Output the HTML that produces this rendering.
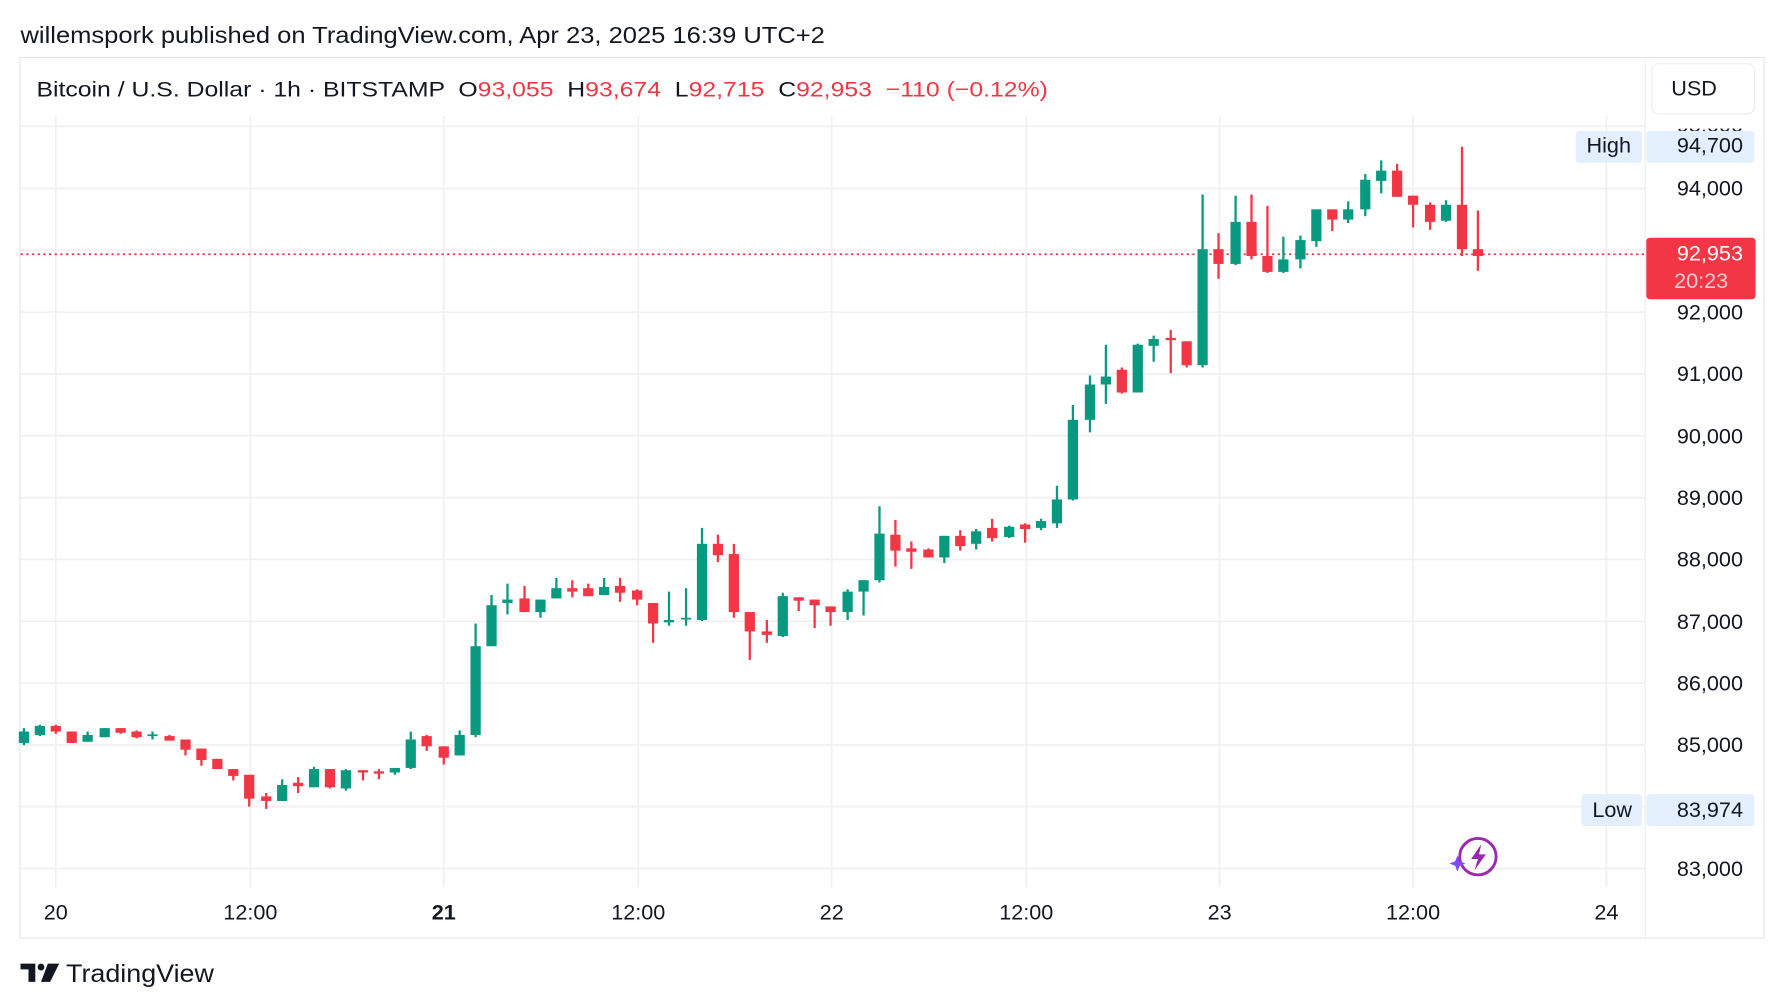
<!DOCTYPE html>
<html><head><meta charset="utf-8"><style>
html,body{margin:0;padding:0;background:#fff;}
svg{display:block;font-family:"Liberation Sans",sans-serif;}
.g{fill:#089981}.r{fill:#F23645}
.gw{stroke:#089981;stroke-width:2}.rw{stroke:#F23645;stroke-width:2}
.grid{stroke:#f0f0f0;stroke-width:1.5}
.pl{font-size:19px;fill:#131722;text-anchor:end}
.tl{font-size:19px;fill:#131722;text-anchor:middle}
</style></head><body>
<svg width="1784" height="1008" viewBox="0 0 1568 886" xmlns="http://www.w3.org/2000/svg">
<rect width="1568" height="886" fill="#fff"/>
<text x="18" y="38" font-size="20" fill="#131722" textLength="707" lengthAdjust="spacingAndGlyphs">willemspork published on TradingView.com, Apr 23, 2025 16:39 UTC+2</text>
<rect x="17.5" y="50.5" width="1533" height="774" fill="none" stroke="#e6e6e6"/>
<line x1="1446" y1="51" x2="1446" y2="824" stroke="#eeeeee"/>
<g class="grid">
<line x1="18" x2="1446" y1="111" y2="111"/><line x1="18" x2="1446" y1="165.6" y2="165.6"/><line x1="18" x2="1446" y1="220" y2="220"/>
<line x1="18" x2="1446" y1="274.3" y2="274.3"/><line x1="18" x2="1446" y1="328.7" y2="328.7"/><line x1="18" x2="1446" y1="383" y2="383"/>
<line x1="18" x2="1446" y1="437.4" y2="437.4"/><line x1="18" x2="1446" y1="491.7" y2="491.7"/><line x1="18" x2="1446" y1="546.1" y2="546.1"/>
<line x1="18" x2="1446" y1="600.4" y2="600.4"/><line x1="18" x2="1446" y1="654.8" y2="654.8"/><line x1="18" x2="1446" y1="709" y2="709"/>
<line x1="18" x2="1446" y1="763.4" y2="763.4"/>
<line x1="49" x2="49" y1="100" y2="780"/><line x1="220" x2="220" y1="100" y2="780"/><line x1="390" x2="390" y1="100" y2="780"/>
<line x1="561" x2="561" y1="100" y2="780"/><line x1="731" x2="731" y1="100" y2="780"/><line x1="902" x2="902" y1="100" y2="780"/>
<line x1="1072" x2="1072" y1="100" y2="780"/><line x1="1242" x2="1242" y1="100" y2="780"/><line x1="1412" x2="1412" y1="100" y2="780"/>
</g>
<rect x="18" y="52" width="1420" height="50" fill="#fff"/>
<text x="32" y="85" font-size="19" fill="#131722" textLength="889" lengthAdjust="spacingAndGlyphs" xml:space="preserve">Bitcoin / U.S. Dollar · 1h · BITSTAMP  O<tspan fill="#F23645">93,055</tspan>  H<tspan fill="#F23645">93,674</tspan>  L<tspan fill="#F23645">92,715</tspan>  C<tspan fill="#F23645">92,953</tspan>  <tspan fill="#F23645">−110 (−0.12%)</tspan></text>
<line x1="18" x2="1446" y1="223.5" y2="223.5" stroke="#F23645" stroke-width="1.5" stroke-dasharray="2,3"/>
<g id="c"></g>
<text class="pl" x="1532" y="116">95,000</text>
<rect x="1447" y="101" width="100" height="12" fill="#fff"/>
<text class="pl" x="1532" y="172">94,000</text>
<text class="pl" x="1532" y="281">92,000</text>
<text class="pl" x="1532" y="335">91,000</text>
<text class="pl" x="1532" y="390">90,000</text>
<text class="pl" x="1532" y="444">89,000</text>
<text class="pl" x="1532" y="498">88,000</text>
<text class="pl" x="1532" y="553">87,000</text>
<text class="pl" x="1532" y="607">86,000</text>
<text class="pl" x="1532" y="661">85,000</text>
<text class="pl" x="1532" y="770">83,000</text>
<rect x="1452" y="56" width="90" height="44" rx="6" fill="#fff" stroke="#eeeeee"/>
<text x="1489" y="84" font-size="19" fill="#131722" text-anchor="middle">USD</text>
<rect x="1385" y="115" width="58" height="28" rx="3" fill="#e3effd"/>
<text x="1414" y="134" font-size="19" fill="#131722" text-anchor="middle">High</text>
<rect x="1447" y="115" width="95" height="28" rx="3" fill="#e3effd"/>
<text class="pl" x="1532" y="134">94,700</text>
<rect x="1390" y="698" width="53" height="28" rx="3" fill="#e3effd"/>
<text x="1417" y="718" font-size="19" fill="#131722" text-anchor="middle">Low</text>
<rect x="1447" y="698" width="95" height="28" rx="3" fill="#e3effd"/>
<text class="pl" x="1532" y="718">83,974</text>
<rect x="1447" y="209" width="96" height="54" rx="3" fill="#F23645"/>
<text x="1532" y="229" font-size="19" fill="#fff" text-anchor="end">92,953</text>
<text x="1519" y="253" font-size="19" fill="#fbd0d4" text-anchor="end">20:23</text>
<text class="tl" x="49" y="808">20</text>
<text class="tl" x="220" y="808">12:00</text>
<text class="tl" x="390" y="808" font-weight="bold">21</text>
<text class="tl" x="561" y="808">12:00</text>
<text class="tl" x="731" y="808">22</text>
<text class="tl" x="902" y="808">12:00</text>
<text class="tl" x="1072" y="808">23</text>
<text class="tl" x="1242" y="808">12:00</text>
<text class="tl" x="1412" y="808">24</text>
<circle cx="1299" cy="753" r="16" fill="none" stroke="#9c27b0" stroke-width="2.5"/>
<path d="M1302 742 L1293 755 L1299 755 L1296 765 L1306 751 L1300 751 Z" fill="#9c27b0"/>
<path d="M1281 752 l2 5 l5 2 l-5 2 l-2 5 l-2 -5 l-5 -2 l5 -2 z" fill="#7b4dff"/>
<path d="M18 847 h13 v16 h-6 v-11 h-7 z" fill="#131722"/>
<circle cx="36" cy="850" r="3" fill="#131722"/>
<path d="M42 847 h10 l-8 16 h-8 z" fill="#131722"/>
<text x="58" y="863" font-size="22" fill="#131722" textLength="130" lengthAdjust="spacingAndGlyphs">TradingView</text>
</svg>
<script>
var d=[
[21,'g',643,653,640,655],[35,'g',638,646,637,647],[49,'r',638,643,637,645],[63,'r',643,653,643,653],[77,'g',646,652,643,652],
[92,'g',640,648,640,648],[106,'r',640,644,640,645],[120,'r',643,648,642,649],[134,'g',645.5,647,643,650],[149,'r',647,651,646,651],
[163,'r',650,659,650,664],[177,'r',658,668,658,673],[191,'r',667,676,667,676],[205,'r',676,682,676,686],[219,'r',681,702,681,709],
[234,'r',700,704,697,711],[248,'g',690,704,685,704],[262,'r',688,691,683,697],[276,'g',676,692,674,692],[290,'r',676,692,676,693],
[304,'g',677,693,676,695],[319,'r',677,679,677,686],[333,'r',678,680,676,685],[347,'g',675,679,675,681],[361,'g',650,675,643,676],
[375,'r',647,656,646,660],[390,'r',656,666,656,672],[404,'g',646,664,642,664],[418,'g',568,646,548,648],[432,'g',532,568,523,568],
[446,'g',527,530,513,540],[461,'r',526,538,515,538],[475,'g',527,538,527,543],[489,'g',517,526,508,526],[503,'r',517,520,510,525],
[517,'r',517,524,513,524],[531,'g',516,523,508,523],[545,'r',515,521,508,529],[560,'r',519,527,518,532],[574,'r',530,548,530,565],
[588,'g',545,547,520,550],[603,'g',543,544.5,517,550],[617,'g',478,545,464,546],[631,'r',478,488,470,494],[645,'r',487,538,478,543],
[659,'r',538,555,538,580],[674,'r',555,558,545,565],[688,'g',524,559,521,560],[702,'r',525,528,525,537],[716,'r',527,532,527,552],
[730,'r',533,538,533,550],[745,'g',520,538,518,545],[759,'g',510,520,510,541],[773,'g',469,510,445,512],[787,'r',470,484,457,498],
[801,'r',482,485,476,500],[816,'r',483,490,482,490],[830,'g',471,490,471,495],[844,'r',471,480,466,484],[858,'g',467,478,465,483],
[872,'r',464,473,456,476],[887,'g',463,472,462,473],[901,'r',461,465,460,477],[915,'g',458,464,456,466],[929,'g',439,460,427,464],
[943,'g',369,439,356,440],[958,'g',338,369,330,380],[972,'g',331,338,303,355],[986,'r',325,345,323,346],[1000,'g',303,345,302,345],
[1014,'g',298,304,295,318],[1029,'r',297,299,290,328],[1043,'r',300,321,300,323],[1057,'g',219,321,171,323],[1071,'r',219,232,205,245],
[1086,'g',195,232,172,233],[1100,'r',195,225,171,228],[1114,'r',225,239,181,240],[1128,'g',228,239,208,240],[1143,'g',211,228,207,236],
[1157,'g',184,212,184,217],[1171,'r',184,193,184,203],[1185,'g',184,193,177,196],[1200,'g',158,184,153,190],[1214,'g',150,159,141,170],
[1228,'r',150,173,144,173],[1242,'r',172,180,172,200],[1257,'r',180,195,178,202],[1271,'g',180,194,176,195],[1285,'r',180,219,129,225],
[1299,'r',219,225,185,238]];
var s='';d.forEach(function(c){var x=c[0],k=c[1];
s+='<line class="'+k+'w" x1="'+x+'" x2="'+x+'" y1="'+c[4]+'" y2="'+c[5]+'"/>';
var h=Math.max(c[3]-c[2],1.5);
s+='<rect class="'+k+'" x="'+(x-4.5)+'" y="'+c[2]+'" width="9" height="'+h+'"/>';});
document.getElementById('c').innerHTML=s;
</script>
</body></html>
